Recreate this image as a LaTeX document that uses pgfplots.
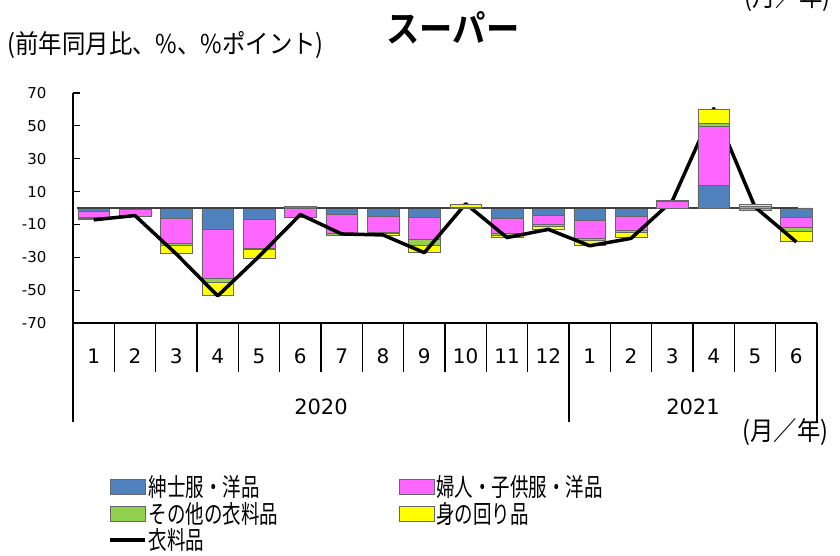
\documentclass[border=0pt]{standalone}
\usepackage{fontspec}
\setmainfont{DejaVu Sans}
\newfontfamily\cjk{Noto Sans CJK JP}[FakeStretch=0.74]
\newfontfamily\cjkw{Noto Sans CJK JP}[FakeStretch=0.9]
\newfontfamily\cjkb{Noto Sans CJK JP Bold}[FakeStretch=0.9]
\usepackage{pgfplots}
\usepackage{pgfplotstable}
\pgfplotsset{compat=1.18}

\definecolor{cblue}{RGB}{79,129,189}
\definecolor{cpink}{RGB}{255,102,255}
\definecolor{cgreen}{RGB}{146,208,80}
\definecolor{cyellow}{RGB}{255,255,0}

% x = month index (2020-1 ... 2021-6), B/P/G/Y = contributions, L = total
\pgfplotstableread{
x   B     P     G     Y     L
1   -2.0  -3.5  -0.6  -0.5  -7.2
2   -1.0  -3.8  -0.2  0     -4.6
3   -6.0  -15.6 -1.2  -4.9  -28.0
4   -13.2 -29.8 -2.4  -7.7  -53.5
5   -7.1  -17.2 -0.8  -5.7  -29.5
6   0.8   -5.9  0     0     -4.0
7   -4.1  -11.2 -1.2  0     -15.8
8   -4.9  -9.7  -1.0  -1.2  -16.4
9   -5.9  -13.4 -3.4  -4.5  -27.2
10  0     0     0.6   1.8   2.6
11  -6.1  -9.1  -1.4  -1.0  -18.0
12  -4.5  -5.5  -1.0  -2.2  -13.0
13  -7.3  -11.0 -1.4  -3.0  -23.0
14  -5.3  -8.3  -1.4  -3.0  -18.5
15  0     4.2   0.5   0     4.4
16  13.8  36.1  1.8   8.5   60.5
17  0     1.0   -1.5  1.2   0.6
18  -5.5  -6.5  -2.2  -5.9  -20.7
}\sales

\pgfplotsset{
  frame/.style={
    scale only axis, width=744pt, height=230pt,
    at={(73pt,232pt)}, anchor=south west,
    xmin=0.5, xmax=18.5, ymin=-70, ymax=70,
    ybar stacked, bar width=31.7pt, clip=false,
  },
  seg/.style={fill=#1, draw=black!60, line width=0.5pt},
  swatch/.style={legend image code/.code={\draw[##1] (0pt,-7.5pt) rectangle (35pt,7.5pt);}},
  lineswatch/.style={legend image code/.code={\draw[##1] (0pt,0pt) -- (35pt,0pt);}},
}

\begin{document}
\begin{tikzpicture}
\useasboundingbox (0,0) rectangle (840pt,555pt);

% negative parts, with the visible axes
\begin{axis}[frame,
  axis x line*=bottom, axis y line*=left,
  axis line style={line width=1.5pt, black},
  ytick={-70,-50,...,70},
  tick align=inside, major tick length=7pt,
  ytick style={line width=1.2pt, black},
  yticklabel style={font=\fontsize{15}{15}\selectfont, /pgf/number format/assume math mode=true, xshift=-23pt},
  xtick={1,...,18},
  xticklabels={1,2,3,4,5,6,7,8,9,10,11,12,1,2,3,4,5,6},
  xtick style={draw=none},
  xticklabel style={font=\fontsize{20}{20}\selectfont, anchor=center, yshift=-33pt},
]
\addplot[seg=cblue] table[x=x, y expr={min(\thisrow{B},0)}] {\sales};
\addplot[seg=cpink] table[x=x, y expr={min(\thisrow{P},0)}] {\sales};
\addplot[seg=cgreen] table[x=x, y expr={min(\thisrow{G},0)}] {\sales};
\addplot[seg=cyellow] table[x=x, y expr={min(\thisrow{Y},0)}] {\sales};

\pgfplotsinvokeforeach{1.5,2.5,...,11.5,13.5,14.5,...,17.5}{
  \draw[line width=1.2pt] (axis cs:#1,-70) -- ++(0pt,-49pt);
}
\pgfplotsinvokeforeach{0.5,12.5,18.5}{
  \draw[line width=1.2pt] (axis cs:#1,-70) -- ++(0pt,-99pt);
}
\node[font=\fontsize{21}{21}\selectfont, yshift=-84pt] at (axis cs:6.5,-70) {2020};
\node[font=\fontsize{21}{21}\selectfont, yshift=-84pt] at (axis cs:15.5,-70) {2021};
\end{axis}

% positive parts, zero line, total line, legend
\begin{axis}[frame, hide axis,
  legend columns=2,
  legend cell align=left,
  legend style={at={(axis description cs:0.047,-0.655)}, anchor=north west,
    draw=none, fill=none, inner sep=0pt, row sep=0pt,
    font=\cjk\fontsize{25}{27}\selectfont},
]
\addplot[seg=cblue, swatch] table[x=x, y expr={max(\thisrow{B},0)}] {\sales};
\addlegendentry{\makebox[248pt][l]{紳士服・洋品}}
\addplot[seg=cpink, swatch] table[x=x, y expr={max(\thisrow{P},0)}] {\sales};
\addlegendentry{婦人・子供服・洋品}
\addplot[seg=cgreen, swatch] table[x=x, y expr={max(\thisrow{G},0)}] {\sales};
\addlegendentry{\makebox[248pt][l]{その他の衣料品}}
\addplot[seg=cyellow, swatch] table[x=x, y expr={max(\thisrow{Y},0)}] {\sales};
\addlegendentry{身の回り品}
\addplot[sharp plot, stack plots=false, forget plot, black!75, line width=1.3pt]
  coordinates {(0.6,0) (18.04,0)};
\addplot[sharp plot, stack plots=false, black, line width=3.5pt, line join=round, lineswatch]
  table[x=x, y=L] {\sales};
\addlegendentry{衣料品}
\end{axis}

\node[font=\cjkb\fontsize{37}{37}\selectfont] at (453pt,527pt) {スーパー};
\node[anchor=west, font=\cjkw\fontsize{26}{26}\selectfont] at (4pt,510pt) {(前年同月比、\%、\%ポイント)};
\node[anchor=east, font=\cjkw\fontsize{26}{26}\selectfont] at (832pt,123pt) {(月／年)};
\node[anchor=east, font=\cjkw\fontsize{26}{26}\selectfont] at (834pt,557pt) {(月／年)};
\end{tikzpicture}
\end{document}
